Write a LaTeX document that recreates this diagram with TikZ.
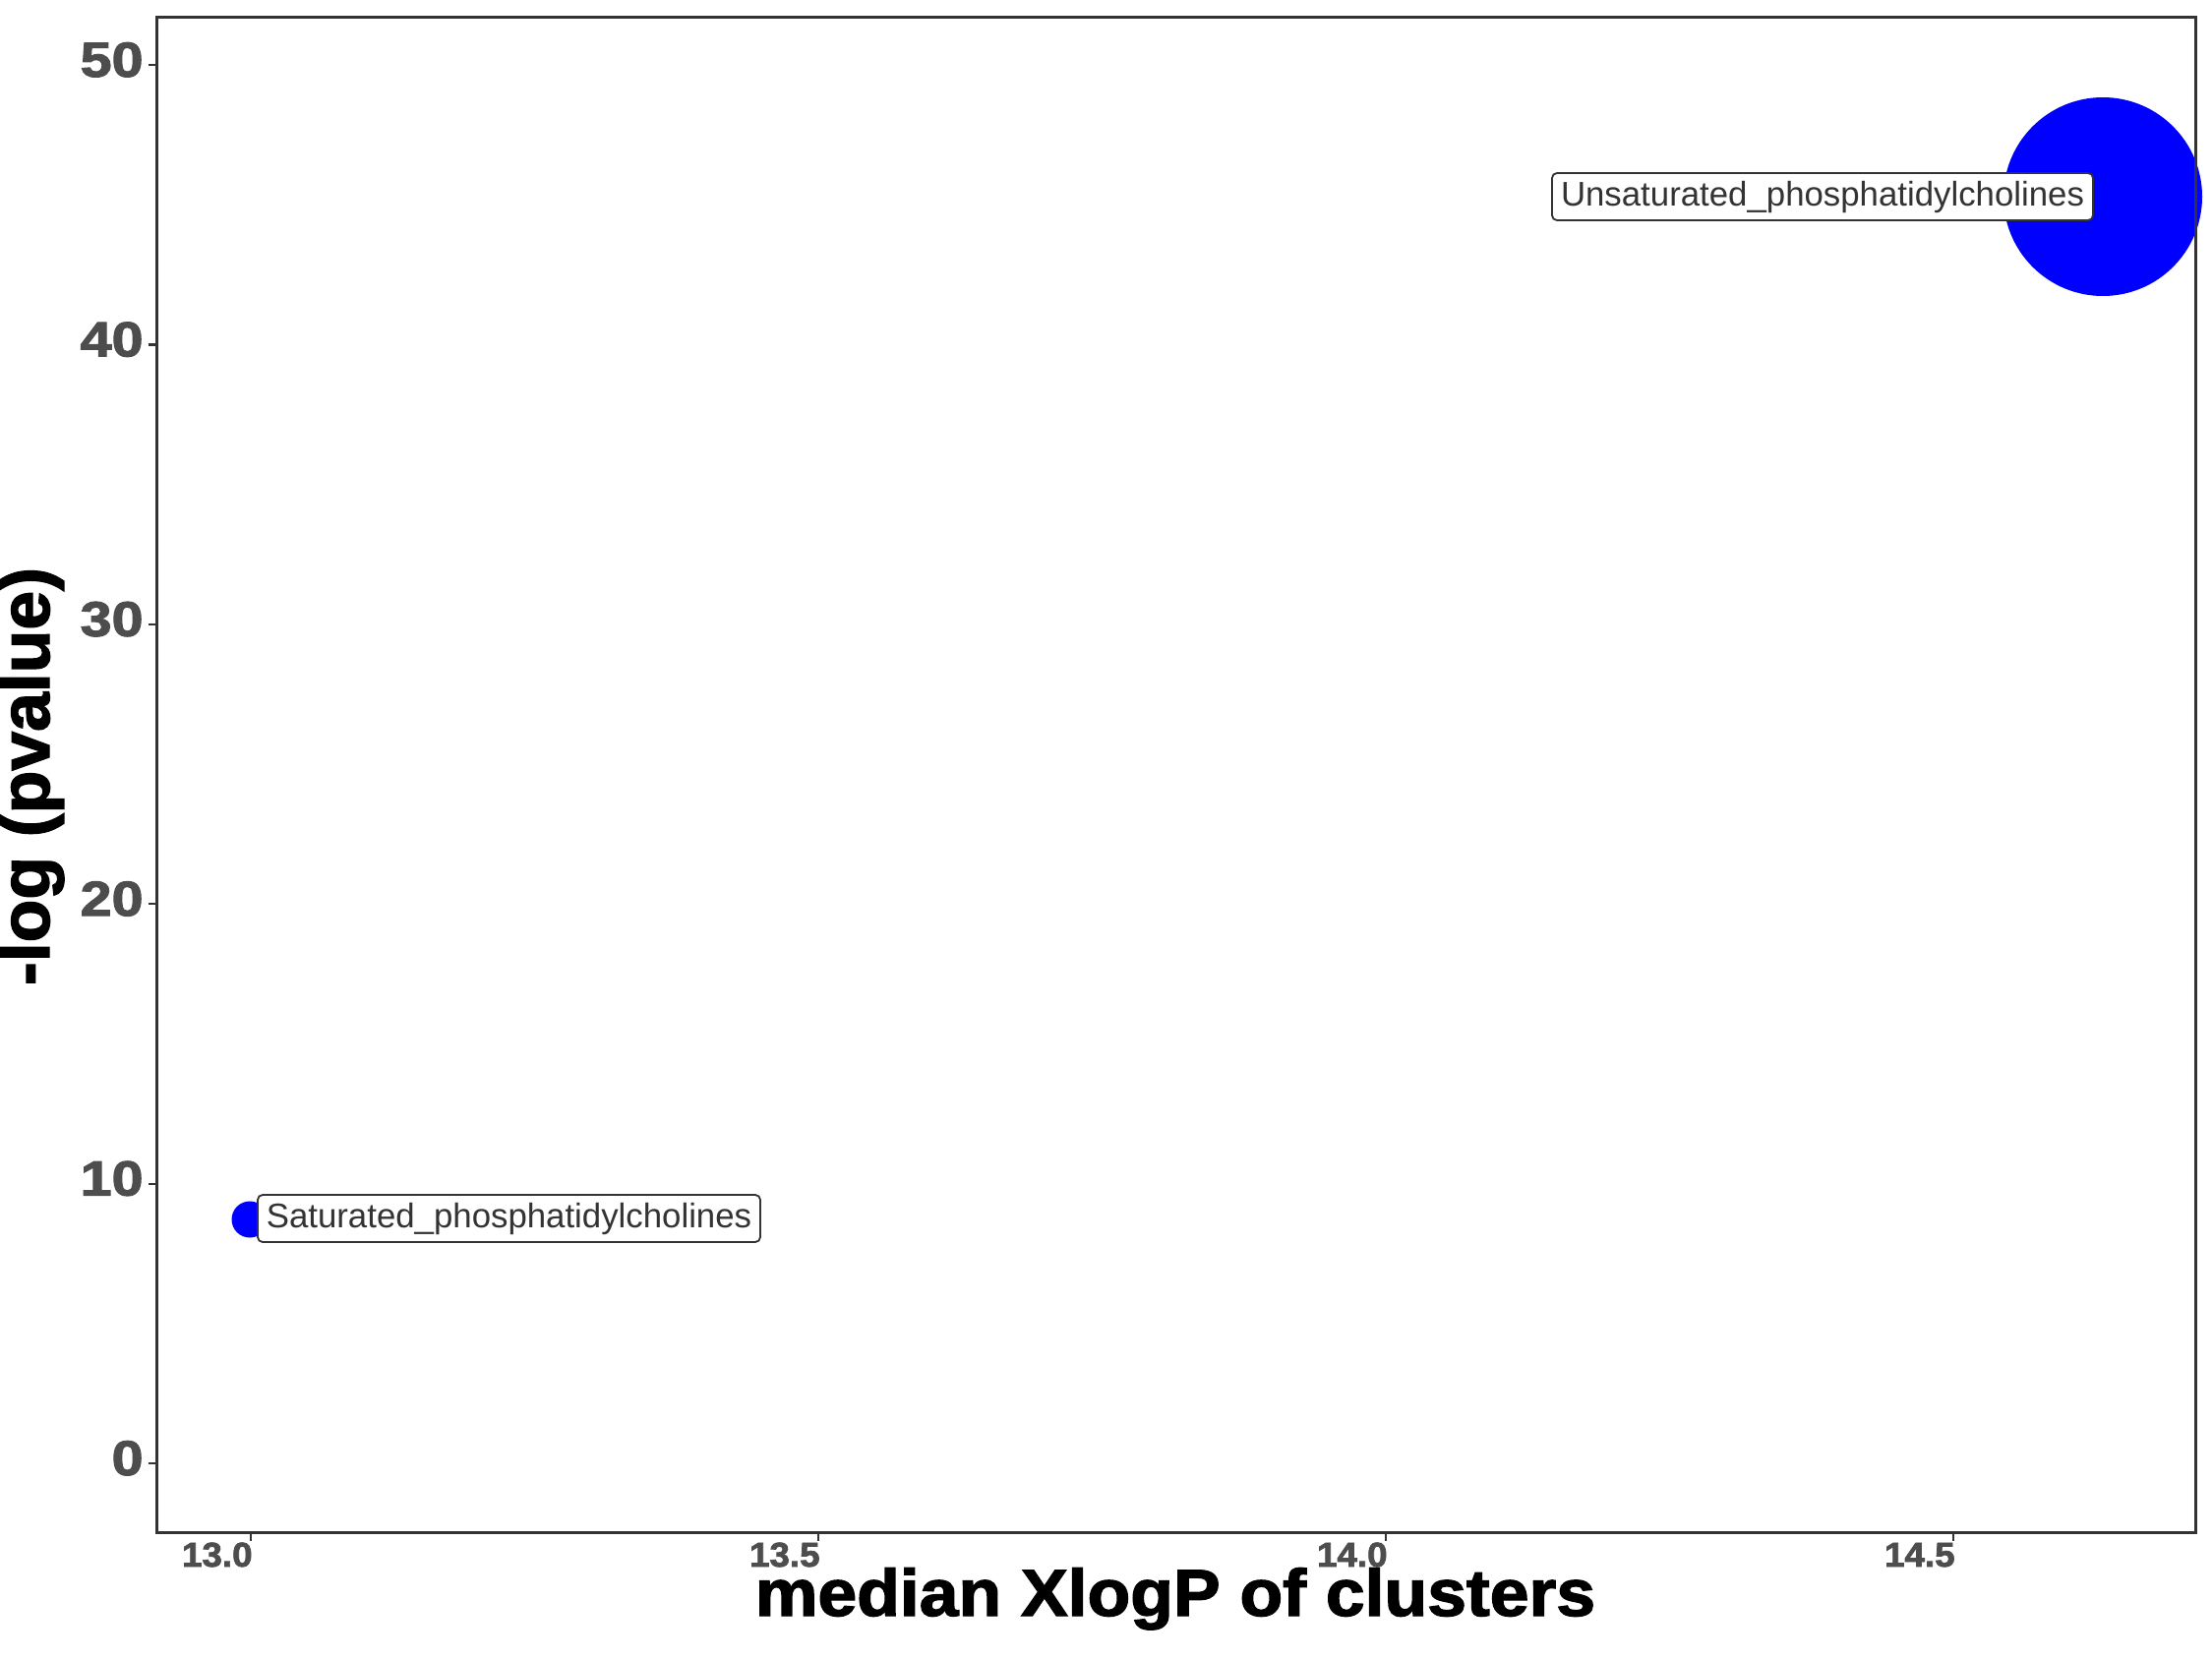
\documentclass[tikz,border=0pt]{standalone}
\usepackage{fontspec}
\usepackage{graphicx}
\setmainfont{Liberation Sans}
\newfontfamily\heavyfont{Liberation Sans Bold}[FakeBold=2]
\definecolor{grey20}{HTML}{333333}
\definecolor{grey30}{HTML}{4D4D4D}
\definecolor{ptblue}{HTML}{0000FF}
\tikzset{
  pt/.style={circle, fill=ptblue, inner sep=0pt},
  lbl/.style={draw=grey20, line width=0.9pt, fill=white, rounded corners=2.5pt,
    inner sep=0pt, text=grey20, font=\fontsize{17.4pt}{20pt}\selectfont},
  ytick/.style={anchor=base east, inner sep=0pt, text=grey30,
    font=\heavyfont\fontsize{25pt}{28pt}\selectfont},
  xtick/.style={anchor=base east, inner sep=0pt, text=grey30,
    font=\heavyfont\fontsize{17.5pt}{20pt}\selectfont},
  axtitle/.style={anchor=base, inner sep=0pt, text=black,
    font=\heavyfont\fontsize{35.75pt}{40pt}\selectfont},
  tickline/.style={draw=grey20, line width=1.1pt},
  frame/.style={draw=grey20, line width=1.5pt}
}
\begin{document}
\begin{tikzpicture}[x=0.5pt,y=-0.5pt]
\useasboundingbox (0,0) rectangle (2249,1687);
% points
\node[pt, minimum size=101pt] (pu) at (2138,200) {};
\node[pt, minimum size=18.5pt] (ps) at (254,1240) {};
% labels
\node[lbl, minimum width=275pt, minimum height=24pt] (lu) at (1853,200) {Unsaturated\_phosphatidylcholines};
\node[lbl, minimum width=255.5pt, minimum height=24pt] (ls) at (517.5,1239) {Saturated\_phosphatidylcholines};
% frame
\draw[frame] (159.5,17.5) rectangle (2232.5,1558);
% y ticks
\foreach \v/\yy in {0/1488,10/1203.6,20/919.2,30/634.8,40/350.4,50/66} {
  \draw[tickline] (151,\yy) -- (159.5,\yy);
  \node[ytick] (yl\v) at (146,\yy+12) {\scalebox{1.15}[1]{\v}};
}
% x ticks
\foreach \lab/\xx in {13.0/255,13.5/832,14.0/1409,14.5/1986} {
  \draw[tickline] (\xx,1558) -- (\xx,1567);
  \node[xtick] (xl\xx) at (\xx+2,1593) {\scalebox{1.05}[1]{\lab}};
}
% axis titles
\node[axtitle] (xt) at (1195,1643) {\scalebox{1}[0.94]{median XlogP of clusters}};
\node[axtitle, rotate=90] (yt) at (50,789.5) {-log (pvalue)};
\end{tikzpicture}
\end{document}
